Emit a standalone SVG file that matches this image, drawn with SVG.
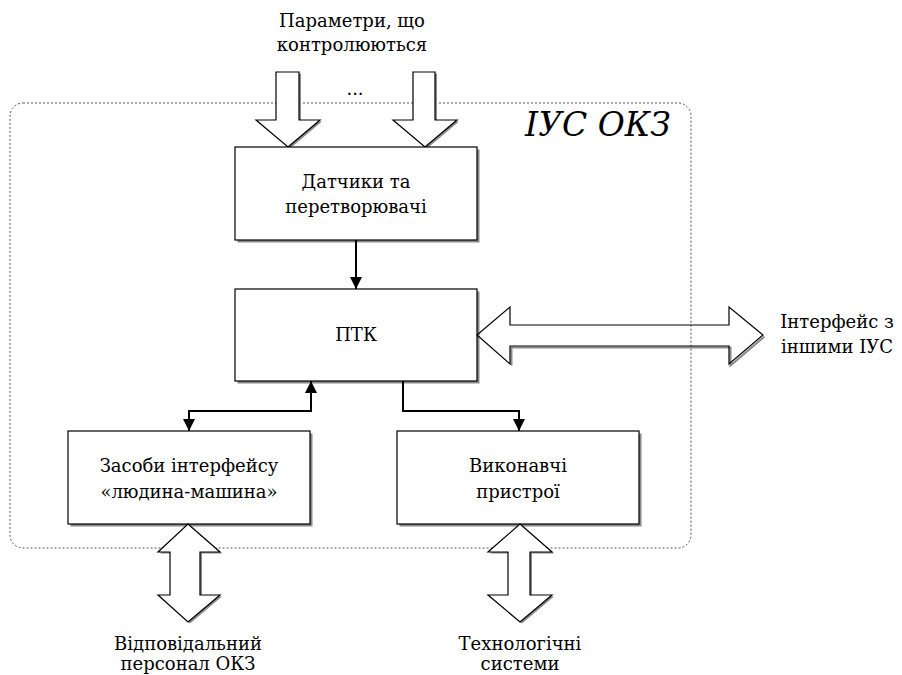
<svg xmlns="http://www.w3.org/2000/svg" width="902" height="675" viewBox="0 0 902 675">
<defs>
<style>
.box{fill:#fff;stroke:#000;stroke-width:1.2}
.sh{fill:#8a8a8a}
.blk{fill:#fff;stroke:#000;stroke-width:1.2;stroke-linejoin:miter}
.conn{fill:none;stroke:#000;stroke-width:2}
</style>
<marker id="ah" viewBox="0 0 10 10" refX="10" refY="5" markerWidth="6" markerHeight="6" markerUnits="strokeWidth" orient="auto-start-reverse">
<path d="M0,0 L10,5 L0,10 z" fill="#000"/>
</marker>
</defs>
<rect width="902" height="675" fill="#fff"/>

<g font-family="DejaVu Serif, Liberation Serif, serif" font-size="18" text-anchor="middle" fill="#000">

<g id="system-boundary">
<rect x="10" y="103" width="681" height="445" rx="13" ry="13" fill="none" stroke="#555" stroke-width="1" stroke-dasharray="2,2"/>
<text x="598" y="136" font-size="33" font-style="italic">ІУС ОКЗ</text>
</g>

<g id="label-params">
<text x="352" y="27">Параметри, що</text>
<text x="352" y="51">контролюються</text>
<text x="355" y="95">...</text>
</g>

<g id="input-arrow-1">
<polygon class="sh" transform="translate(2,1.5)" points="276,72 299,72 299,120 320,120 288,147 256,120 276,120"/>
<polygon class="blk" points="276,72 299,72 299,120 320,120 288,147 256,120 276,120"/>
</g>
<g id="input-arrow-2">
<polygon class="sh" transform="translate(2,1.5)" points="413,72 435,72 435,120 457,120 425,147 393,120 413,120"/>
<polygon class="blk" points="413,72 435,72 435,120 457,120 425,147 393,120 413,120"/>
</g>

<g id="sensors">
<rect class="sh" x="237.5" y="149.5" width="242" height="93"/>
<rect class="box" x="235" y="147" width="242" height="93"/>
<text x="356" y="188">Датчики та</text>
<text x="356" y="213">перетворювачі</text>
</g>

<g id="ptk">
<rect class="sh" x="237.5" y="291.5" width="242" height="92"/>
<rect class="box" x="235" y="289" width="242" height="92"/>
<text x="356" y="341">ПТК</text>
</g>

<g id="hmi">
<rect class="sh" x="70.5" y="433.5" width="242" height="93"/>
<rect class="box" x="68" y="431" width="242" height="93"/>
<text x="189" y="472">Засоби інтерфейсу</text>
<text x="189" y="498">«людина-машина»</text>
</g>

<g id="actuators">
<rect class="sh" x="399.5" y="433.5" width="242" height="93"/>
<rect class="box" x="397" y="431" width="242" height="93"/>
<text x="518" y="472">Виконавчі</text>
<text x="518" y="498">пристрої</text>
</g>

<g id="interface-arrow">
<polyline fill="none" stroke="#8a8a8a" stroke-width="2" transform="translate(1.5,1.5)" points="510,364 510,346 729,346 729,364 763,335"/>
<polygon fill="none" stroke="#000" stroke-width="1.2" points="477,335 510,307 510,325 729,325 729,307 763,335 729,364 729,346 510,346 510,364"/>
</g>
<g id="label-interface">
<text x="837" y="328">Інтерфейс з</text>
<text x="837" y="353">іншими ІУС</text>
</g>

<g id="personnel-arrow">
<polygon class="sh" transform="translate(2,1.5)" points="188,524 220,552 200,552 200,595 220,595 188,622 158,595 170,595 170,552 158,552"/>
<polygon class="blk" points="188,524 220,552 200,552 200,595 220,595 188,622 158,595 170,595 170,552 158,552"/>
</g>
<g id="label-personnel">
<text x="188" y="650">Відповідальний</text>
<text x="188" y="670">персонал ОКЗ</text>
</g>

<g id="tech-arrow">
<polygon class="sh" transform="translate(2,1.5)" points="520,524 552,552 530,552 530,595 552,595 520,622 488,595 508,595 508,552 488,552"/>
<polygon class="blk" points="520,524 552,552 530,552 530,595 552,595 520,622 488,595 508,595 508,552 488,552"/>
</g>
<g id="label-tech">
<text x="520" y="650">Технологічні</text>
<text x="520" y="670">системи</text>
</g>

</g>

<g id="connectors">
<path class="conn" d="M356,240 L356,289" marker-end="url(#ah)"/>
<path class="conn" d="M311,381 L311,411 L189,411 L189,431" marker-start="url(#ah)" marker-end="url(#ah)"/>
<path class="conn" d="M403,381 L403,411 L519,411 L519,431" marker-end="url(#ah)"/>
</g>
</svg>
